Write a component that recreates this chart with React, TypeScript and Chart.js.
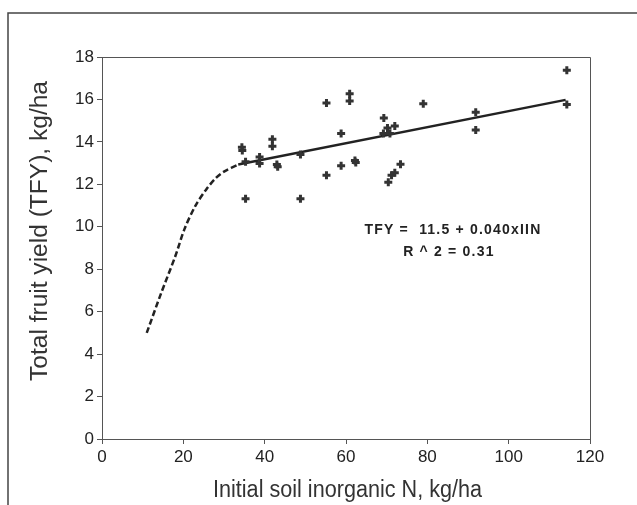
import React, { useEffect, useRef } from "react";
import { Chart, registerables } from "chart.js";

Chart.register(...registerables);

// Observed data (Initial soil inorganic N, kg/ha  vs  Total fruit yield, kg/ha)
const obsX = [114.3, 114.3, 34.4, 34.5, 35.3, 35.3, 38.75, 38.75, 41.9, 41.9, 43.0, 43.2, 48.8, 48.8, 55.2, 55.2, 58.8, 58.8, 60.9, 60.9, 62.2, 62.4, 69.3, 69.2, 70.2, 70.8, 72.0, 70.4, 71.2, 72.0, 73.4, 79.0, 91.9, 91.9];
const obsY = [17.37, 15.76, 13.75, 13.6, 13.06, 11.32, 13.29, 12.98, 14.12, 13.8, 12.93, 12.83, 13.4, 11.32, 15.83, 12.43, 14.39, 12.88, 16.27, 15.93, 13.12, 13.03, 15.13, 14.4, 14.65, 14.4, 14.75, 12.1, 12.43, 12.55, 12.95, 15.8, 15.4, 14.56];

// Fitted linear response (solid)
const fitX = [33.5, 114];
const fitY = [12.93, 15.98];

// Extrapolated response below data range (dashed)
const curveX = [11, 14.5, 18, 20.3, 23, 25.6, 28, 30, 33.5];
const curveY = [5.0, 6.85, 8.6, 9.9, 11.0, 11.75, 12.3, 12.6, 12.93];

const xTicks = [0, 20, 40, 60, 80, 100, 120];
const yTicks = [0, 2, 4, 6, 8, 10, 12, 14, 16, 18];

const eqLine1 = "TFY =  11.5 + 0.040xIIN";
const eqLine2 = "R ^ 2 = 0.31";
const xTitle = "Initial soil inorganic N, kg/ha";
const yTitle = "Total fruit yield (TFY), kg/ha";

const W = 637;
const H = 505;

function fittedText(ctx: any, text: string, x: number, y: number, rot: number, targetW: number) {
  ctx.save();
  ctx.translate(x, y);
  ctx.rotate(rot);
  const m = ctx.measureText(text).width;
  ctx.scale(targetW / m, 1);
  ctx.fillText(text, 0, 0);
  ctx.restore();
}

const decorPlugin = {
  id: "decor",
  beforeDraw(chart: any) {
    const ctx = chart.ctx;
    ctx.save();
    ctx.fillStyle = "#ffffff";
    ctx.fillRect(0, 0, chart.width, chart.height);
    ctx.strokeStyle = "#444";
    ctx.lineWidth = 1.5;
    ctx.beginPath();
    ctx.moveTo(8, H + 2);
    ctx.lineTo(8, 13);
    ctx.lineTo(W + 2, 13);
    ctx.stroke();
    ctx.restore();
  },
  afterDraw(chart: any) {
    const ctx = chart.ctx;
    const a = chart.chartArea;
    const xs = chart.scales.x;
    const ys = chart.scales.y;
    ctx.save();
    // plot box top/right
    ctx.strokeStyle = "#555";
    ctx.lineWidth = 1;
    ctx.beginPath();
    ctx.moveTo(a.left, a.top + 0.5);
    ctx.lineTo(a.right + 0.5, a.top + 0.5);
    ctx.lineTo(a.right + 0.5, a.bottom);
    ctx.stroke();
    // equation text
    ctx.fillStyle = "#222";
    ctx.textAlign = "center";
    ctx.textBaseline = "middle";
    ctx.font = "bold 14px 'Liberation Sans', Arial, sans-serif";
    (ctx as any).letterSpacing = "1.2px";
    ctx.fillText(eqLine1, xs.getPixelForValue(86.3), ys.getPixelForValue(9.84));
    ctx.fillText(eqLine2, xs.getPixelForValue(85.3), ys.getPixelForValue(8.8));
    (ctx as any).letterSpacing = "0px";
    // axis titles
    ctx.fillStyle = "#333";
    ctx.font = "23px 'Liberation Sans', Arial, sans-serif";
    ctx.textBaseline = "alphabetic";
    fittedText(ctx, xTitle, 347.5, 497, 0, 269);
    ctx.textBaseline = "middle";
    fittedText(ctx, yTitle, 41, 231, -Math.PI / 2, 300);
    ctx.restore();
  },
};

export default function App() {
  const ref = useRef<HTMLCanvasElement | null>(null);

  useEffect(() => {
    if (!ref.current) return;
    const tickFont = { family: "'Liberation Sans', Arial, sans-serif", size: 17 };
    const chart = new Chart(ref.current, {
      type: "scatter",
      data: {
        datasets: [
          {
            label: "Observed",
            data: obsX.map((x, i) => ({ x, y: obsY[i] })),
            pointStyle: "cross",
            pointRadius: 4,
            pointBorderWidth: 3,
            borderColor: "#333",
            backgroundColor: "#333",
            showLine: false,
          },
          {
            label: "Fit",
            data: fitX.map((x, i) => ({ x, y: fitY[i] })),
            showLine: true,
            pointRadius: 0,
            borderColor: "#222",
            borderWidth: 2.5,
          },
          {
            label: "Extrapolated",
            data: curveX.map((x, i) => ({ x, y: curveY[i] })),
            showLine: true,
            pointRadius: 0,
            borderColor: "#222",
            borderWidth: 2.5,
            borderDash: [6, 3],
            tension: 0.3,
          },
        ],
      },
      options: {
        responsive: false,
        animation: false,
        layout: { padding: { top: 57, right: 47, left: 0, bottom: 0 } },
        plugins: { legend: { display: false }, tooltip: { enabled: false } },
        scales: {
          x: {
            type: "linear",
            min: 0,
            max: 120,
            afterBuildTicks: (s: any) => {
              s.ticks = xTicks.map((v) => ({ value: v }));
            },
            afterFit: (s: any) => {
              s.height = 66;
            },
            grid: { display: true, drawOnChartArea: false, drawTicks: true, tickLength: 5, color: "#555" },
            border: { display: true, color: "#555", width: 1 },
            ticks: { color: "#222", font: tickFont, padding: 3, maxRotation: 0 },
          },
          y: {
            type: "linear",
            min: 0,
            max: 18,
            afterBuildTicks: (s: any) => {
              s.ticks = yTicks.map((v) => ({ value: v }));
            },
            afterFit: (s: any) => {
              s.width = 102;
            },
            grid: { display: true, drawOnChartArea: false, drawTicks: true, tickLength: 5, color: "#555" },
            border: { display: true, color: "#555", width: 1 },
            ticks: { color: "#222", font: tickFont, padding: 3 },
          },
        },
      },
      plugins: [decorPlugin],
    });
    return () => chart.destroy();
  }, []);

  return (
    <div style={{ position: "absolute", left: 0, top: 0, width: W, height: H, background: "#fff" }}>
      <canvas ref={ref} width={W} height={H} style={{ display: "block" }} />
    </div>
  );
}
